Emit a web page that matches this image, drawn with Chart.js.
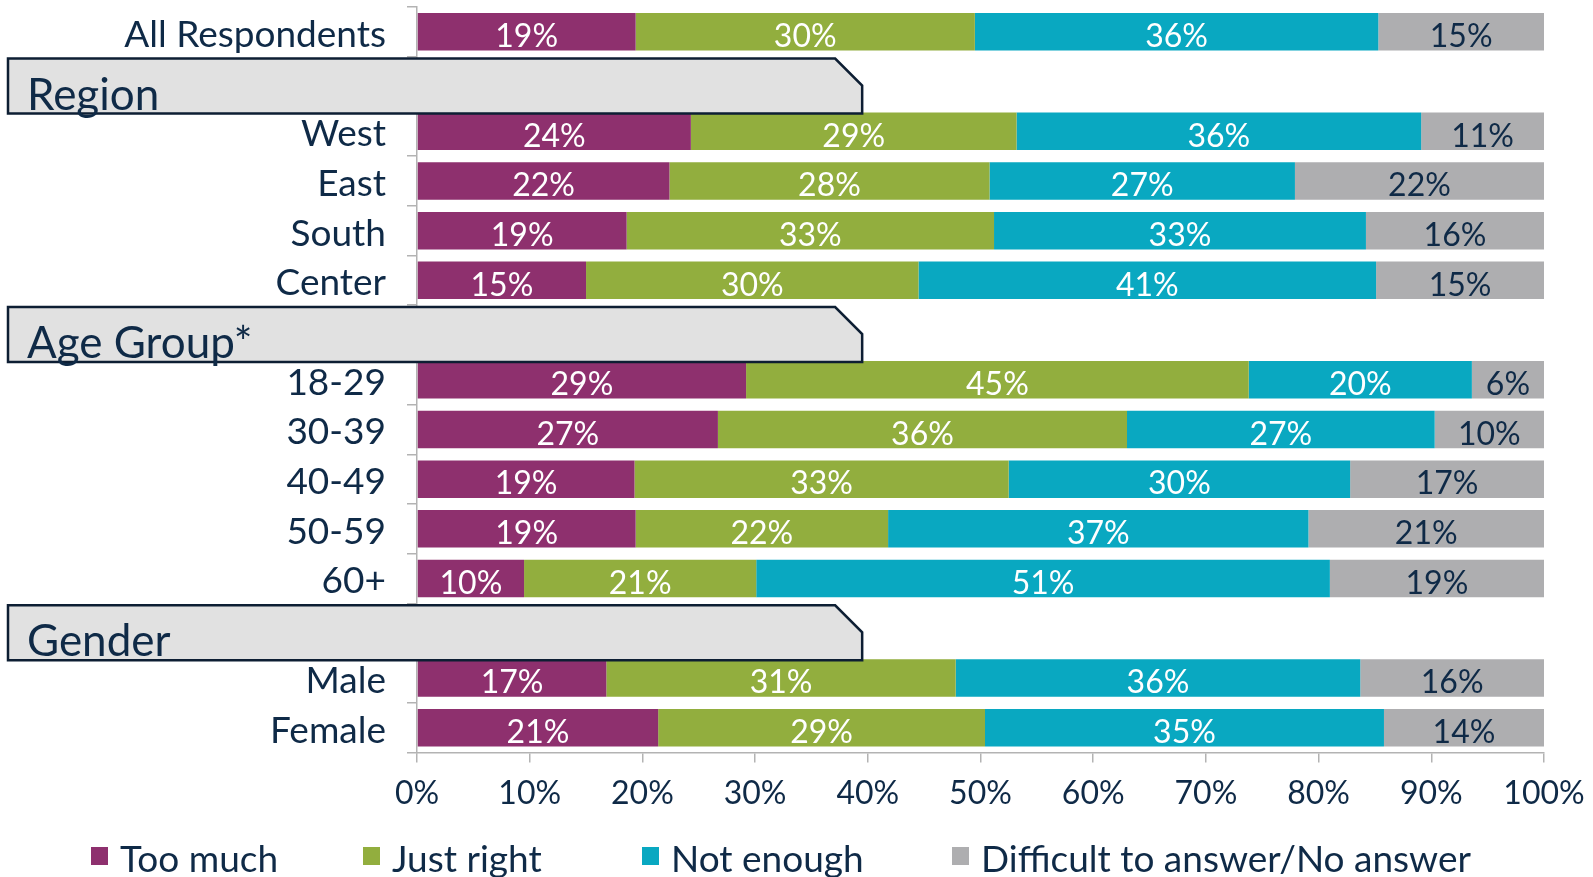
<!DOCTYPE html>
<html>
<head>
<meta charset="utf-8">
<script src="https://cdn.jsdelivr.net/npm/chart.js@4.4.1/dist/chart.umd.min.js"></script>
<style>
    html, body { margin: 0; padding: 0; background: #fff; }
    #wrap { width: 1593px; height: 877px; position: relative; }
</style>
</head>
<body>
<div id="wrap"><canvas id="surveyChart"></canvas></div>
<script>
const categories = ['All Respondents', '', 'West', 'East', 'South', 'Center', '', '18-29', '30-39', '40-49', '50-59', '60+', '', 'Male', 'Female'];
const groupTitles = ['Region', 'Age Group*', 'Gender'];
const groupRows = [1, 6, 12];
const seriesNames = ['Too much', 'Just right', 'Not enough', 'Difficult to answer/No answer'];
const tooMuch   = [19.4, null, 24.3, 22.4, 18.6, 15.0, null, 29.2, 26.7, 19.3, 19.4,  9.5, null, 16.8, 21.4];
const justRight = [30.1, null, 28.9, 28.4, 32.6, 29.5, null, 44.6, 36.3, 33.2, 22.4, 20.6, null, 31.0, 29.0];
const notEnough = [35.8, null, 35.9, 27.1, 33.0, 40.6, null, 19.8, 27.3, 30.3, 37.3, 50.9, null, 35.9, 35.4];
const noAnswer  = [14.7, null, 10.9, 22.1, 15.8, 14.9, null,  6.4,  9.7, 17.2, 20.9, 19.0, null, 16.3, 14.2];
const xTicks = [0, 10, 20, 30, 40, 50, 60, 70, 80, 90, 100];

const colors = ['#8E306E', '#92AE3E', '#09A8C1', '#AEAEB0'];
const labelColors = ['#ffffff', '#ffffff', '#ffffff', '#0F2A47'];
const navy = '#0F2A47';
const axisGray = '#b3b3b3';
const FONT = 'Lato, "Open Sans", sans-serif';

// percentage labels inside the bars
const barLabels = {
    id: 'barLabels',
    afterDatasetsDraw(chart) {
        const ctx = chart.ctx;
        ctx.save();
        ctx.font = '32px ' + FONT;
        ctx.textAlign = 'center';
        ctx.textBaseline = 'middle';
        chart.data.datasets.forEach((ds, i) => {
            const meta = chart.getDatasetMeta(i);
            meta.data.forEach((bar, j) => {
                const v = ds.data[j];
                if (v === null) return;
                ctx.fillStyle = labelColors[i];
                ctx.fillText(Math.round(v) + '%', (bar.x + bar.base) / 2, bar.y + 5);
            });
        });
        ctx.restore();
    }
};

// grey group header boxes + legend
const overlays = {
    id: 'overlays',
    afterDraw(chart) {
        const ctx = chart.ctx;
        const ys = chart.scales.y;
        const xs = chart.scales.x;
        ctx.save();
        groupRows.forEach((row, i) => {
            const cy = ys.getPixelForValue(row);
            const top = cy - 23, bottom = cy + 32;
            const left = 8, right = xs.getPixelForValue(39.5);
            const cut = 27;
            ctx.beginPath();
            ctx.moveTo(left, top);
            ctx.lineTo(right - cut, top);
            ctx.lineTo(right, top + cut);
            ctx.lineTo(right, bottom);
            ctx.lineTo(left, bottom);
            ctx.closePath();
            ctx.fillStyle = '#e1e1e1';
            ctx.fill();
            ctx.lineWidth = 2.5;
            ctx.strokeStyle = '#0d1e33';
            ctx.stroke();
            ctx.fillStyle = navy;
            ctx.font = '44px ' + FONT;
            ctx.textAlign = 'left';
            ctx.textBaseline = 'alphabetic';
            ctx.fillText(groupTitles[i], 27, bottom - 4);
        });

        const legendX = [91, 363, 642, 952];
        ctx.font = '37px ' + FONT;
        ctx.textBaseline = 'alphabetic';
        seriesNames.forEach((name, i) => {
            ctx.fillStyle = colors[i];
            ctx.fillRect(legendX[i], 847, 17, 18);
            ctx.fillStyle = navy;
            ctx.fillText(name, legendX[i] + 29, 872);
        });
        ctx.restore();
    }
};

const ctx = document.getElementById('surveyChart').getContext('2d');
const seriesData = [tooMuch, justRight, notEnough, noAnswer];

new Chart(ctx, {
    type: 'bar',
    data: {
        labels: categories,
        datasets: seriesNames.map((name, i) => ({
            label: name,
            data: seriesData[i],
            backgroundColor: colors[i],
            borderWidth: 0,
            barPercentage: 0.755,
            categoryPercentage: 1
        }))
    },
    options: {
        indexAxis: 'y',
        responsive: true,
        maintainAspectRatio: false,
        animation: false,
        layout: { padding: { top: 7, right: 49, left: 0, bottom: 0 } },
        scales: {
            x: {
                stacked: true,
                min: 0,
                max: 100,
                afterFit: (scale) => {
                    scale.height = 124.5;
                    scale.paddingLeft = 0;
                    scale.paddingRight = 0;
                },
                afterBuildTicks: (scale) => { scale.ticks = xTicks.map(v => ({ value: v })); },
                ticks: {
                    callback: (v) => v + '%',
                    color: navy,
                    font: { size: 32, family: FONT },
                    padding: 12,
                    maxRotation: 0
                },
                grid: { drawOnChartArea: false, tickLength: 10, color: axisGray, lineWidth: 1.5 },
                border: { color: axisGray, width: 1.5 }
            },
            y: {
                stacked: true,
                afterFit: (scale) => {
                    scale.width = 417;
                    scale.paddingTop = 0;
                    scale.paddingBottom = 0;
                },
                ticks: {
                    color: navy,
                    font: { size: 37, family: FONT },
                    padding: 21,
                    labelOffset: 3,
                    autoSkip: false
                },
                grid: { offset: true, drawOnChartArea: false, tickLength: 10, color: axisGray, lineWidth: 1.5 },
                border: { color: axisGray, width: 1.5 }
            }
        },
        plugins: {
            legend: { display: false },
            tooltip: { enabled: false }
        }
    },
    plugins: [barLabels, overlays]
});
</script>
</body>
</html>
